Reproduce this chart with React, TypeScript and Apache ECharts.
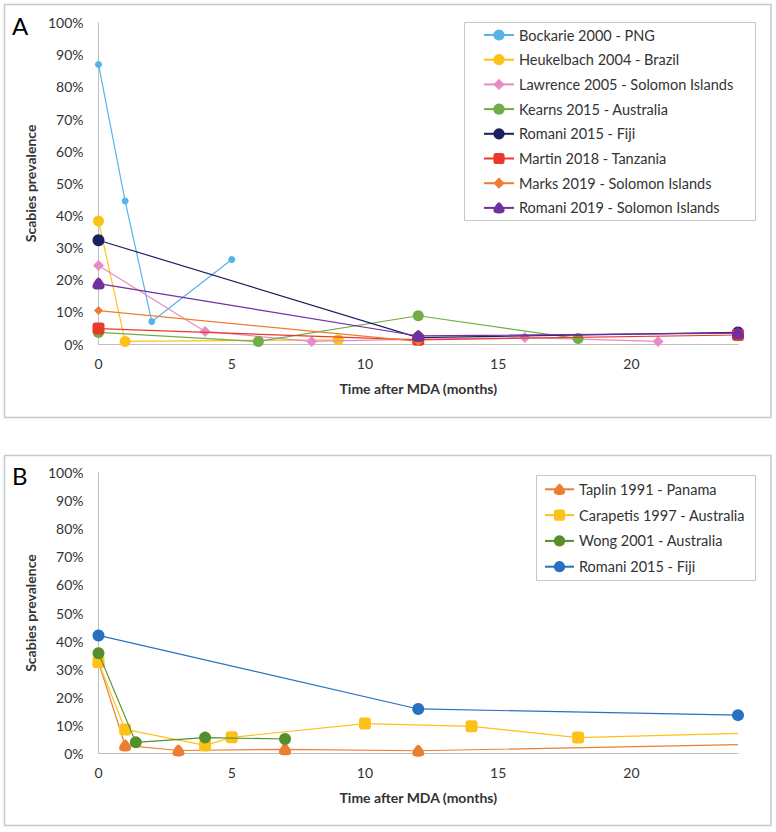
import React, { useEffect, useRef } from "react";
import * as echarts from "echarts";

// ---------- Data (months after MDA, scabies prevalence %) ----------
const bockarie2000 = [[0, 87], [1, 44.5], [2, 7], [5, 26.3]];
const heukelbach2004 = [[0, 38.3], [1, 0.8], [9, 1.3]];
const lawrence2005 = [[0, 24.4], [4, 3.9], [8, 0.8], [12, 1.5], [16, 2], [21, 0.8]];
const kearns2015 = [[0, 3.6], [6, 0.8], [12, 8.8], [18, 1.7]];
const romani2015A = [[0, 32.3], [12, 2], [24, 3.6]];
const martin2018 = [[0, 4.8], [12, 1.3], [24, 2.8]];
const marks2019 = [[0, 10.4], [12, 0.8]];
const romani2019 = [[0, 18.8], [12, 2.5], [24, 3.4]];

const taplin1991 = [[0, 32.5], [1, 2.8], [3, 1], [7, 1.4], [12, 0.9], [24, 3.1]];
const carapetis1997 = [[0, 32.5], [1, 8.5], [4, 2.8], [5, 5.7], [10, 10.6], [14, 9.6], [18, 5.6], [24, 7.1]];
const wong2001 = [[0, 35.7], [1.4, 3.9], [4, 5.6], [7, 5.1]];
const romani2015B = [[0, 42], [12, 15.8], [24, 13.6]];

const xTickStep = 5;
const xMax = 24;
const yTickStep = 10;
const yMax = 100;

const namesA = [
  "Bockarie 2000 - PNG",
  "Heukelbach 2004 - Brazil",
  "Lawrence 2005 - Solomon Islands",
  "Kearns 2015 - Australia",
  "Romani 2015 - Fiji",
  "Martin 2018 - Tanzania",
  "Marks 2019 - Solomon Islands",
  "Romani 2019 - Solomon Islands",
];
const dataA = [bockarie2000, heukelbach2004, lawrence2005, kearns2015, romani2015A, martin2018, marks2019, romani2019];

const namesB = ["Taplin 1991 - Panama", "Carapetis 1997 - Australia", "Wong 2001 - Australia", "Romani 2015 - Fiji "];
const dataB = [taplin1991, carapetis1997, wong2001, romani2015B];

// ---------- Styles ----------
const drop = "path://M5,0 C6.5,0 10,5.5 10,7.5 C10,9.8 8,10.5 5,10.5 C2,10.5 0,9.8 0,7.5 C0,5.5 3.5,0 5,0 Z";
const stylesA = [
  { color: "#56b4e9", symbol: "circle", size: 7 },
  { color: "#fdc219", symbol: "circle", size: 11 },
  { color: "#e68bc6", symbol: "diamond", size: 11 },
  { color: "#70ad47", symbol: "circle", size: 11 },
  { color: "#1b2160", symbol: "circle", size: 12 },
  { color: "#e8392a", symbol: "roundRect", size: 12 },
  { color: "#ed7d31", symbol: "diamond", size: 9 },
  { color: "#7030a0", symbol: drop, size: 12 },
];
const stylesB = [
  { color: "#ed7d31", symbol: drop, size: 12 },
  { color: "#fdc219", symbol: "roundRect", size: 12 },
  { color: "#558f2c", symbol: "circle", size: 12 },
  { color: "#2870c0", symbol: "circle", size: 12 },
];

const FONT = "Lato, 'Liberation Sans', sans-serif";
const TEXT = "#333333";
const AXIS = "#bfbfbf";
const BORDER = "#c8c8c8";

function makeSeries(names: string[], datas: number[][][], styles: any[], idx: number) {
  return names.map((name, i) => {
    const d = datas[i];
    // a final point at the axis end without marker (line continues to 24 months)
    const data = d.map((p) => {
      const isTail = idx === 1 && p[0] === xMax && (i === 0 || i === 1);
      return isTail ? { value: p, symbol: "none" } : { value: p };
    });
    return {
      type: "line",
      name,
      xAxisIndex: idx,
      yAxisIndex: idx,
      data,
      symbol: styles[i].symbol,
      symbolSize: styles[i].size,
      showAllSymbol: true,
      lineStyle: { color: styles[i].color, width: 1.2 },
      itemStyle: { color: styles[i].color, borderWidth: 0 },
      emphasis: { disabled: true },
      z: 2 + i,
    };
  });
}

function xAxisDef(gridIndex: number) {
  return {
    type: "value",
    gridIndex,
    min: 0,
    max: xMax,
    interval: xTickStep,
    name: "Time after MDA (months)",
    nameLocation: "middle",
    nameGap: 37,
    nameTextStyle: { fontFamily: FONT, fontSize: 14, fontWeight: "bold", color: TEXT },
    axisLine: { show: true, onZero: false, lineStyle: { color: AXIS, width: 1 } },
    axisTick: { show: false },
    splitLine: { show: false },
    axisLabel: { showMaxLabel: false, margin: 12, fontFamily: FONT, fontSize: 14, color: TEXT },
  };
}

function yAxisDef(gridIndex: number) {
  return {
    type: "value",
    gridIndex,
    min: 0,
    max: yMax,
    interval: yTickStep,
    name: "Scabies prevalence",
    nameLocation: "middle",
    nameGap: 46,
    nameTextStyle: { fontFamily: FONT, fontSize: 14, fontWeight: "bold", color: TEXT },
    axisLine: { show: true, lineStyle: { color: AXIS, width: 1 } },
    axisTick: { show: false },
    splitLine: { show: false },
    axisLabel: { margin: 15, fontFamily: FONT, fontSize: 14, color: TEXT, formatter: "{value}%" },
  };
}

export default function App() {
  const ref = useRef<HTMLDivElement>(null);
  useEffect(() => {
    if (!ref.current) return;
    const chart = echarts.init(ref.current, null, { renderer: "svg" });
    chart.setOption({
      animation: false,
      backgroundColor: "#ffffff",
      grid: [
        { left: 98.5, right: 38, top: 22.7, height: 321.3 },
        { left: 98.5, right: 38, top: 472.7, height: 280.6 },
      ],
      xAxis: [xAxisDef(0), xAxisDef(1)],
      yAxis: [yAxisDef(0), yAxisDef(1)],
      legend: [
        {
          orient: "vertical",
          left: 483,
          top: 27.5,
          padding: 0,
          itemWidth: 30,
          itemHeight: 14,
          itemGap: 9.7,
          data: namesA,
          textStyle: { fontFamily: FONT, fontSize: 14.5, color: TEXT },
          selectedMode: false,
        },
        {
          orient: "vertical",
          left: 544,
          top: 481.8,
          padding: 0,
          itemWidth: 29,
          itemHeight: 14,
          itemGap: 10.8,
          data: namesB,
          textStyle: { fontFamily: FONT, fontSize: 14.5, color: TEXT },
          selectedMode: false,
        },
      ],
      graphic: [
        { type: "rect", shape: { x: 4.5, y: 4.5, width: 766.5, height: 413 }, style: { fill: "none", stroke: BORDER, lineWidth: 1.5 }, silent: true },
        { type: "rect", shape: { x: 4.5, y: 455.5, width: 766.5, height: 370 }, style: { fill: "none", stroke: BORDER, lineWidth: 1.5 }, silent: true },
        { type: "rect", shape: { x: 464.5, y: 22.5, width: 291, height: 198 }, style: { fill: "none", stroke: BORDER, lineWidth: 1 }, silent: true },
        { type: "rect", shape: { x: 536.5, y: 475.5, width: 219, height: 105 }, style: { fill: "none", stroke: BORDER, lineWidth: 1 }, silent: true },
        { type: "text", left: 12, top: 13, style: { text: "A", fontFamily: FONT, fontSize: 24, fill: "#000" }, silent: true },
        { type: "text", left: 12, top: 463, style: { text: "B", fontFamily: FONT, fontSize: 24, fill: "#000" }, silent: true },
      ],
      series: [...makeSeries(namesA, dataA, stylesA, 0), ...makeSeries(namesB, dataB, stylesB, 1)],
    });
    return () => chart.dispose();
  }, []);
  return <div ref={ref} style={{ position: "absolute", left: 0, top: 0, width: 776, height: 832 }} />;
}
